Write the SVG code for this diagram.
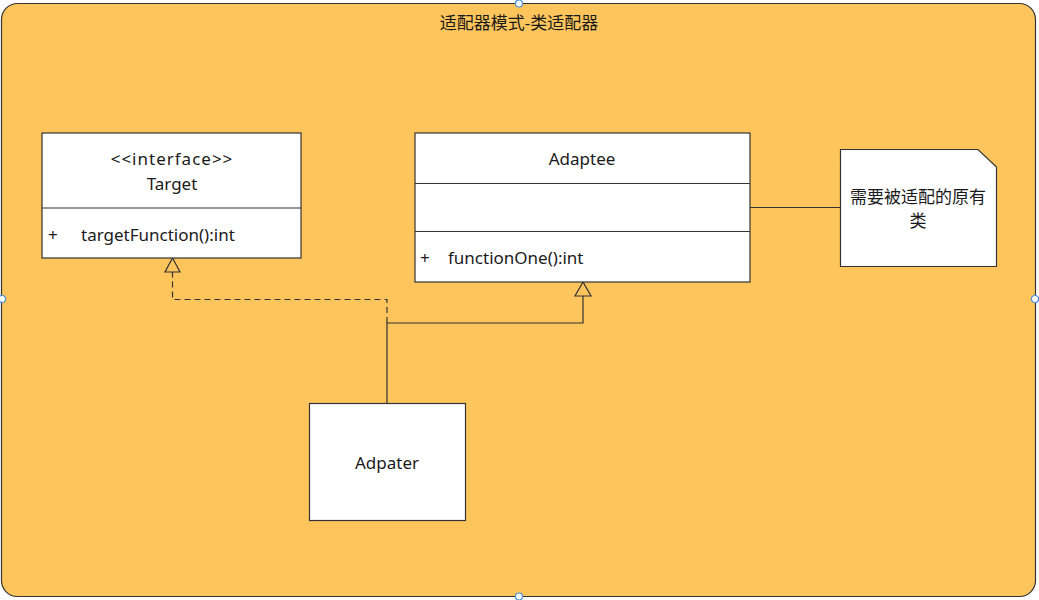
<svg xmlns="http://www.w3.org/2000/svg" width="1039" height="600" viewBox="0 0 1039 600">
<style>
.box{fill:#ffffff;stroke:#333333;stroke-width:1.2}
.ln{stroke:#333333;stroke-width:1.2;fill:none}
.t{font-family:"Noto Sans","Noto Sans CJK SC",sans-serif;font-size:17px;fill:#1a1a1a}
.c{text-anchor:middle}
.handle{fill:#ffffff;stroke:#4a90e2;stroke-width:1.2}
</style>
<rect x="0" y="0" width="1039" height="600" fill="#ffffff"/>
<g id="container">
<rect x="1.5" y="3.5" width="1034" height="593" rx="16" ry="16" fill="#fdc55c" stroke="#333333" stroke-width="1.2"/>
<text class="t c" x="519" y="29">适配器模式-类适配器</text>
</g>
<g id="connectors">
<polyline class="ln" points="387,403 387,323 583,323 583,296"/>
<polygon points="583,282 575,296 591,296" fill="#fdc55c" stroke="#333333" stroke-width="1.2"/>
<polyline class="ln" points="387,323 387,299.5 172.5,299.5 172.5,272" stroke-dasharray="6,4"/>
<polygon points="172.5,258 165,272 180,272" fill="#fdc55c" stroke="#333333" stroke-width="1.2"/>
<line class="ln" x1="750" y1="207.5" x2="840" y2="207.5"/>
</g>
<g id="target">
<rect class="box" x="42" y="133" width="259" height="125"/>
<line class="ln" x1="42" y1="208" x2="301" y2="208"/>
<text class="t c" x="172" y="165" letter-spacing="1">&lt;&lt;interface&gt;&gt;</text>
<text class="t c" x="172" y="190">Target</text>
<text class="t" x="48" y="241">+</text>
<text class="t" x="81" y="241">targetFunction():int</text>
</g>
<g id="adaptee">
<rect class="box" x="415" y="133" width="335" height="149"/>
<line class="ln" x1="415" y1="183.5" x2="750" y2="183.5"/>
<line class="ln" x1="415" y1="231.5" x2="750" y2="231.5"/>
<text class="t c" x="582" y="165">Adaptee</text>
<text class="t" x="420" y="264">+</text>
<text class="t" x="448" y="264">functionOne():int</text>
</g>
<g id="note">
<polygon class="box" points="840.5,149.5 978,149.5 996.5,167 996.5,266.5 840.5,266.5"/>
<text class="t c" x="918" y="203">需要被适配的原有</text>
<text class="t c" x="918" y="227">类</text>
</g>
<g id="adpater">
<rect class="box" x="309.5" y="403.5" width="156" height="117"/>
<text class="t c" x="387" y="469">Adpater</text>
</g>
<g id="handles">
<circle class="handle" cx="519" cy="3.5" r="3.5"/>
<circle class="handle" cx="519" cy="596.5" r="3.5"/>
<circle class="handle" cx="2" cy="299" r="3.5"/>
<circle class="handle" cx="1035" cy="299" r="3.5"/>
</g>
</svg>
